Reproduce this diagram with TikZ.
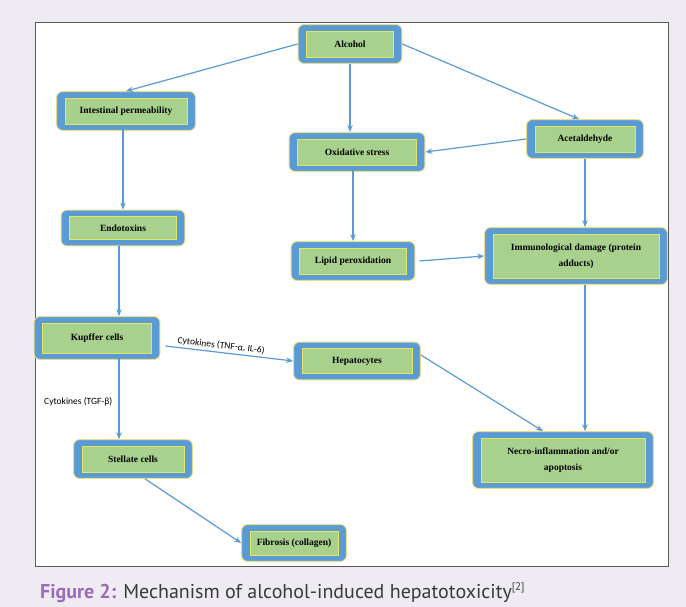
\documentclass[tikz,border=0pt]{standalone}
\usepackage{fontspec}
\setmainfont{Liberation Serif}
\setsansfont{Carlito}
\newfontfamily\capfont{PT Sans}
\usepackage{xcolor}
\usetikzlibrary{arrows.meta}
\usetikzlibrary{fit,backgrounds}
\definecolor{pagebg}{HTML}{EEEBF3}
\definecolor{boxblue}{HTML}{5B9BD5}
\definecolor{boxrim}{HTML}{E9DC86}
\definecolor{boxgreen}{HTML}{A9D18E}
\definecolor{boxline}{HTML}{E3E65E}
\definecolor{arrowblue}{HTML}{5B9BD5}
\definecolor{figpurple}{HTML}{9B6DB6}
\definecolor{captext}{HTML}{3A3A3A}

\begin{document}
\begin{tikzpicture}[
  x=1pt, y=-1pt,
  inbox/.style={rectangle, fill=boxgreen, draw=boxline, line width=0.8pt,
    font=\bfseries\fontsize{9.5}{16}\selectfont, align=center,
    minimum height=26pt, inner sep=2pt},
  outbox/.style={rectangle, rounded corners=6pt, fill=boxblue, draw=boxrim,
    line width=0.9pt, inner xsep=8pt, inner ysep=6pt},
  flow/.style={->, draw=arrowblue, line width=1.2pt},
  cyto/.style={font=\sffamily\fontsize{9.5}{11}\selectfont, inner sep=1pt},
]
\tikzset{>={Stealth[length=7pt, width=5.5pt]}}
\useasboundingbox (0,0) rectangle (686,607);

\node[inbox, minimum width=87pt]  (Alc)   at (350,44)  {Alcohol};
\node[inbox, minimum width=122pt] (Perm)  at (126,111) {Intestinal permeability};
\node[inbox, minimum width=100pt] (Acet)  at (585,139) {Acetaldehyde};
\node[inbox, minimum width=119pt] (Oxi)   at (357,152) {Oxidative stress};
\node[inbox, minimum width=107pt, minimum height=23pt] (Endo) at (123,228) {Endotoxins};
\node[inbox, minimum width=107pt] (Lipid) at (353,261) {Lipid peroxidation};
\node[inbox, minimum width=166pt, minimum height=44pt] (Immu) at (576,256)
  {Immunological damage (protein\\adducts)};
\node[inbox, minimum width=109pt, minimum height=30pt] (Kup) at (97,338) {Kupffer cells};
\node[inbox, minimum width=110pt, minimum height=25pt] (Hep) at (357,361) {Hepatocytes};
\node[inbox, minimum width=102pt] (Stel)  at (133,459) {Stellate cells};
\node[inbox, minimum width=164pt, minimum height=44pt] (Necro) at (563,460)
  {Necro-inflammation and/or\\apoptosis};
\node[inbox, minimum width=88pt, minimum height=24pt] (Fib) at (294,543) {Fibrosis (collagen)};

\begin{scope}[on background layer]
\fill[pagebg] (0,0) rectangle (686,607);
\draw[fill=white, draw=black!65, line width=0.9pt] (35,22) rectangle (668,566);
\foreach \n in {Alc,Perm,Acet,Oxi,Endo,Lipid,Immu,Kup,Hep,Stel,Necro,Fib}
  \node[outbox, fit=(\n)] (\n B) {};
\end{scope}

\coordinate (KupS)  at ([xshift=22pt]KupB.south);
\coordinate (ImmuS) at ([xshift=9pt]ImmuB.south);
\coordinate (EndoS) at ([xshift=-4pt]EndoB.south);

\draw[flow] (AlcB.west) to (PermB.north);
\draw[flow] (AlcB.south) to (AlcB.south |- OxiB.north);
\draw[flow] (AlcB.east) to ([xshift=-6pt]AcetB.north);
\draw[flow] (AcetB.west) to (OxiB.east);
\draw[flow] ([yshift=2pt]PermB.south -| EndoB.north) to (EndoB.north);
\draw[flow] ([yshift=2pt]OxiB.south -| LipidB.north) to (LipidB.north);
\draw[flow] (AcetB.south) to (AcetB.south |- ImmuB.north);
\draw[flow] ([xshift=4pt]LipidB.east) to (ImmuB.west);
\draw[flow] (EndoS) to (EndoS |- KupB.north);
\draw[flow] ([xshift=5pt,yshift=-8pt]KupB.east) to
  node[cyto, sloped, above=1pt, pos=0.43] {Cytokines (TNF-α, IL-6)} (HepB.west);
\draw[flow] ([yshift=5pt]KupS) to (KupS |- StelB.north);
\node[cyto, anchor=west] (TGF) at (43,402) {Cytokines (TGF-β)};
\draw[flow] ([yshift=6pt]HepB.east) to ([xshift=-20pt]NecroB.north);
\draw[flow] (ImmuS) to (ImmuS |- NecroB.north);
\draw[flow] ([xshift=12pt]StelB.south) to (FibB.west);

\node[anchor=base west, inner sep=0pt, text=captext,
  font=\capfont\fontsize{20}{24}\selectfont] (Cap) at (40,598)
  {\textcolor{figpurple}{\bfseries Figure 2:} Mechanism of alcohol-induced hepatotoxicity\textsuperscript{\fontsize{11}{12}\selectfont[2]}};
\end{tikzpicture}
\end{document}
